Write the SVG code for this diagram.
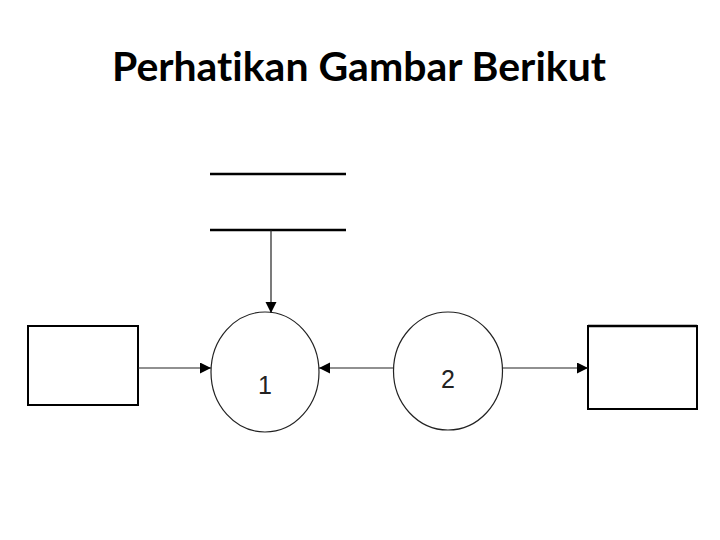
<svg xmlns="http://www.w3.org/2000/svg" width="720" height="540" viewBox="0 0 720 540">
<defs>
<marker id="arr" markerWidth="12" markerHeight="12" refX="11" refY="5.5" orient="auto" markerUnits="userSpaceOnUse">
<path d="M0,0 L11,5.5 L0,11 Z" fill="#000"/>
</marker>
<style>
.title{font-family:Lato,"Open Sans","Liberation Sans",sans-serif;font-weight:bold;font-size:40px;fill:#000;font-variant-ligatures:none;font-feature-settings:"liga" 0}
.lbl{font-family:"Liberation Sans",Arial,sans-serif;font-size:25px;fill:#222}
.box{fill:#fff;stroke:#000;stroke-width:2}
.proc{fill:#fff;stroke:#222;stroke-width:1.2}
.conn{stroke:#222;stroke-width:1.2;fill:none}
.store{stroke:#000;stroke-width:2.5}
</style>
</defs>
<rect width="720" height="540" fill="#fff"/>
<text class="title" x="359" y="81" text-anchor="middle" textLength="494" lengthAdjust="spacingAndGlyphs">Perhatikan Gambar Berikut</text>
<g id="entity-left"><rect class="box" x="28" y="326" width="110" height="79"/></g>
<g id="entity-right"><rect class="box" x="588" y="326" width="109" height="83" stroke-width="1.5"/><line x1="588" y1="326" x2="697" y2="326" stroke="#000" stroke-width="2.5"/></g>
<g id="datastore"><line class="store" x1="210" y1="174" x2="346" y2="174"/><line class="store" x1="210" y1="230" x2="346" y2="230"/></g>
<g id="process-1"><ellipse class="proc" cx="265" cy="372" rx="54" ry="60"/><text class="lbl" x="265" y="394" text-anchor="middle">1</text></g>
<g id="process-2"><ellipse class="proc" cx="448" cy="371" rx="54.5" ry="59"/><text class="lbl" x="448" y="388" text-anchor="middle">2</text></g>
<g id="connectors">
<line class="conn" x1="271" y1="230" x2="271" y2="313" stroke="#666" marker-end="url(#arr)"/>
<line class="conn" x1="138" y1="368" x2="211" y2="368" marker-end="url(#arr)"/>
<line class="conn" x1="393" y1="368" x2="319" y2="368" marker-end="url(#arr)"/>
<line class="conn" x1="502" y1="368" x2="588" y2="368" marker-end="url(#arr)"/>
</g>
</svg>
